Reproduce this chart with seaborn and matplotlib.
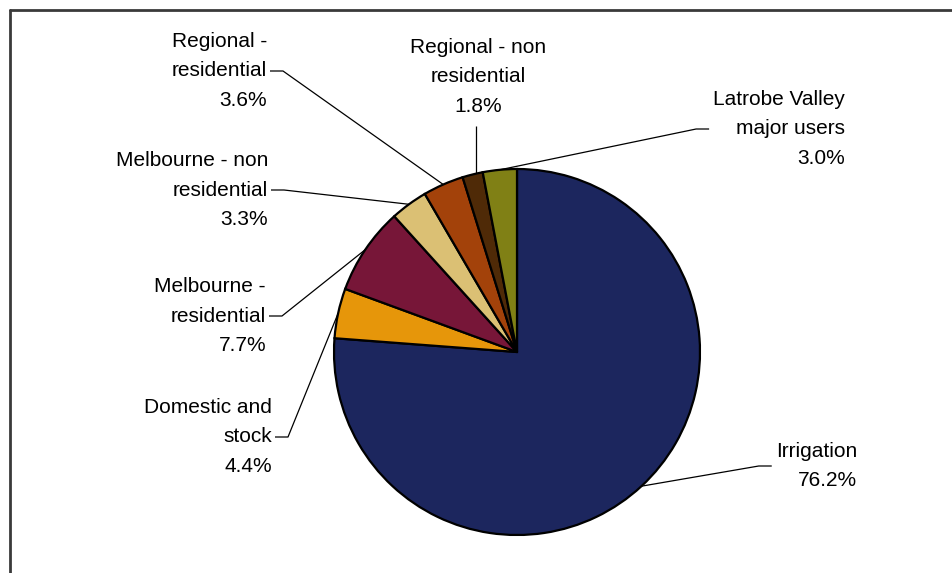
import numpy as np
import matplotlib
matplotlib.use("Agg")
import matplotlib.pyplot as plt
import seaborn as sns

# Share of water use by category (%), clockwise from 12 o'clock
categories = [
    "Irrigation",
    "Domestic and\nstock",
    "Melbourne -\nresidential",
    "Melbourne - non\nresidential",
    "Regional -\nresidential",
    "Regional - non\nresidential",
    "Latrobe Valley\nmajor users",
]
shares = [76.2, 4.4, 7.7, 3.3, 3.6, 1.8, 3.0]
colors = ["#1C265E", "#E6960A", "#771638", "#DBC074", "#A3420A", "#4F2A07", "#808015"]

# Label placement in pixel space: (x, y, side)
label_pos = [
    (857, 466, "right"),
    (272, 437, "left"),
    (266, 316, "left"),
    (268, 190, "left"),
    (267, 71, "left"),
    (478, 77, "top"),
    (845, 129, "right"),
]

W, H = 952, 573
CX, CY, R = 517, 352, 183

sns.set_theme(style="white")
plt.rcParams["font.family"] = ["Liberation Sans", "DejaVu Sans"]

fig = plt.figure(figsize=(W / 100, H / 100), dpi=100)
ax = fig.add_axes([0, 0, 1, 1])

palette = sns.color_palette(colors)
wedges, _ = ax.pie(
    shares,
    colors=palette,
    startangle=-90,
    counterclock=True,
    center=(CX, CY),
    radius=R,
    wedgeprops=dict(edgecolor="black", linewidth=1.6),
    frame=True,
)
ax.set_autoscale_on(False)
ax.set_xlim(0, W)
ax.set_ylim(H, 0)
ax.set_aspect("equal")
ax.axis("off")

fig.canvas.draw()
renderer = fig.canvas.get_renderer()
inv = ax.transData.inverted()

for name, val, w, (lx, ly, side) in zip(categories, shares, wedges, label_pos):
    text = f"{name}\n{val:.1f}%"
    mid = np.deg2rad((w.theta1 + w.theta2) / 2)
    ax_pt = (CX + R * np.cos(mid), CY + R * np.sin(mid))
    if side == "top":
        t = ax.text(lx, ly, text, ha="center", va="center", multialignment="center",
                    fontsize=15, color="black", linespacing=1.7)
    else:
        t = ax.text(lx, ly, text, ha="right", va="center", multialignment="right",
                    fontsize=15, color="black", linespacing=1.7)
    bb = t.get_window_extent(renderer)
    (x0, y0), (x1, y1) = inv.transform([[bb.x0, bb.y0], [bb.x1, bb.y1]])
    if side == "left":
        sx = x1 + 3
        xs = [sx, sx + 13, ax_pt[0]]
        ys = [ly, ly, ax_pt[1]]
    elif side == "right":
        sx = x0 - 4
        xs = [sx, sx - 13, ax_pt[0]]
        ys = [ly, ly, ax_pt[1]]
    else:
        bottom = max(y0, y1)
        vx = lx - 2
        xs = [vx, vx]
        ys = [bottom + 10, CY - np.sqrt(R ** 2 - (vx - CX) ** 2)]
    ax.plot(xs, ys, color="black", linewidth=0.9, solid_capstyle="butt", zorder=0.5)

# Chart area border (top and left edges visible)
ax.plot([9.5, W + 5], [9.5, 9.5], color="#3a3a3a", linewidth=2, clip_on=False)
ax.plot([9.5, 9.5], [9.5, H + 5], color="#3a3a3a", linewidth=2, clip_on=False)

fig.savefig("out.png", dpi=100, facecolor="white")
